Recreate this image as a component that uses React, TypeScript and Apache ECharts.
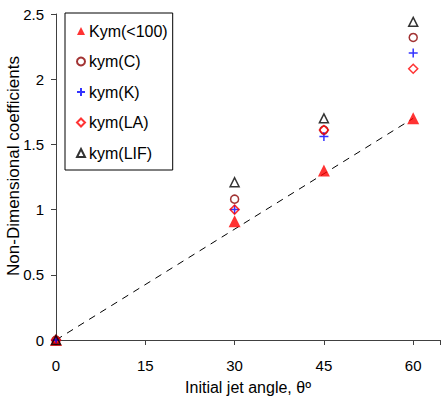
import React, { useEffect, useRef } from "react";
import * as echarts from "echarts";

const angles = [0, 30, 45, 60];
const kymLt100 = [0, 0.91, 1.3, 1.7];
const kymC = [0, 1.08, 1.61, 2.32];
const kymK = [0, 1.0, 1.56, 2.2];
const kymLA = [0, 1.0, 1.61, 2.08];
const kymLIF = [0, 1.21, 1.7, 2.44];
const fitLine = [[0, 0], [60, 1.7]];
const xTicks = [0, 15, 30, 45, 60];

const FONT = "'Liberation Sans', Arial, sans-serif";
const PLUS = "path://M5,0L5,10M0,5L10,5";

function pts(ys: number[]) {
  return angles.map((a, i) => [a, ys[i]]);
}

export default function App() {
  const ref = useRef<HTMLDivElement>(null);
  useEffect(() => {
    if (!ref.current) return;
    const chart = echarts.init(ref.current, null, { renderer: "svg" });
    chart.setOption({
      animation: false,
      backgroundColor: "#fff",
      textStyle: { fontFamily: FONT },
      grid: { left: 56, top: 14, bottom: 59, right: 0 },
      xAxis: {
        type: "value",
        min: 0,
        max: 64.5,
        interval: 15,
        name: "Initial jet angle, θº",
        nameLocation: "middle",
        nameGap: 39,
        nameTextStyle: { fontSize: 16, color: "#000", fontFamily: FONT },
        splitLine: { show: false },
        axisLine: { lineStyle: { color: "#404040", width: 1 } },
        axisTick: { show: true, length: 5, lineStyle: { color: "#404040" } },
        axisLabel: {
          fontSize: 15,
          color: "#000",
          margin: 18,
          fontFamily: FONT,
          formatter: (v: number) => (xTicks.includes(v) ? String(v) : ""),
        },
      },
      yAxis: {
        type: "value",
        min: 0,
        max: 2.5,
        interval: 0.5,
        splitLine: { show: false },
        axisLine: { show: true, lineStyle: { color: "#404040", width: 1 } },
        axisTick: { show: true, length: 5, lineStyle: { color: "#404040" } },
        axisLabel: { fontSize: 15, color: "#000", margin: 12, fontFamily: FONT },
      },
      legend: {
        data: ["Kym(<100)", "kym(C)", "kym(K)", "kym(LA)", "kym(LIF)"],
        orient: "vertical",
        left: 65,
        top: 13,
        padding: [10, 5, 9, 11],
        itemGap: 14.5,
        itemWidth: 8,
        itemHeight: 8,
        borderColor: "#000",
        borderWidth: 1,
        backgroundColor: "#fff",
        textStyle: { fontSize: 16, color: "#000", fontFamily: FONT, padding: [0, 0, 0, -1] },
      },
      graphic: [
        {
          type: "text",
          x: 13,
          y: 166,
          rotation: Math.PI / 2,
          style: {
            text: "Non-Dimensional coefficients",
            font: `17px ${FONT}`,
            fill: "#000",
            textAlign: "center",
            textVerticalAlign: "middle",
          },
        },
      ],
      series: [
        {
          name: "fit",
          type: "line",
          data: fitLine,
          symbol: "none",
          silent: true,
          lineStyle: { color: "#000", width: 1, type: [7, 6] },
          z: 1,
        },
        {
          name: "Kym(<100)",
          type: "scatter",
          data: pts(kymLt100),
          symbol: "triangle",
          symbolSize: 12,
          itemStyle: { color: "#ff0000" },
        },
        {
          name: "kym(C)",
          type: "scatter",
          data: pts(kymC),
          symbol: "circle",
          symbolSize: 8,
          itemStyle: { color: "rgba(255,255,255,0)", borderColor: "#8b0000", borderWidth: 1.5 },
        },
        {
          name: "kym(K)",
          type: "scatter",
          data: pts(kymK),
          symbol: PLUS,
          symbolSize: 9,
          itemStyle: { color: "rgba(255,255,255,0)", borderColor: "#0000ff", borderWidth: 1.5 },
        },
        {
          name: "kym(LA)",
          type: "scatter",
          data: pts(kymLA),
          symbol: "diamond",
          symbolSize: 9,
          itemStyle: { color: "rgba(255,255,255,0)", borderColor: "#ff0000", borderWidth: 1.5 },
        },
        {
          name: "kym(LIF)",
          type: "scatter",
          data: pts(kymLIF),
          symbol: "triangle",
          symbolSize: 9,
          itemStyle: { color: "rgba(255,255,255,0)", borderColor: "#000", borderWidth: 1.5 },
        },
      ],
    });
    return () => chart.dispose();
  }, []);
  return (
    <div
      ref={ref}
      style={{ position: "fixed", left: 0, top: 0, width: 443, height: 400 }}
    />
  );
}
